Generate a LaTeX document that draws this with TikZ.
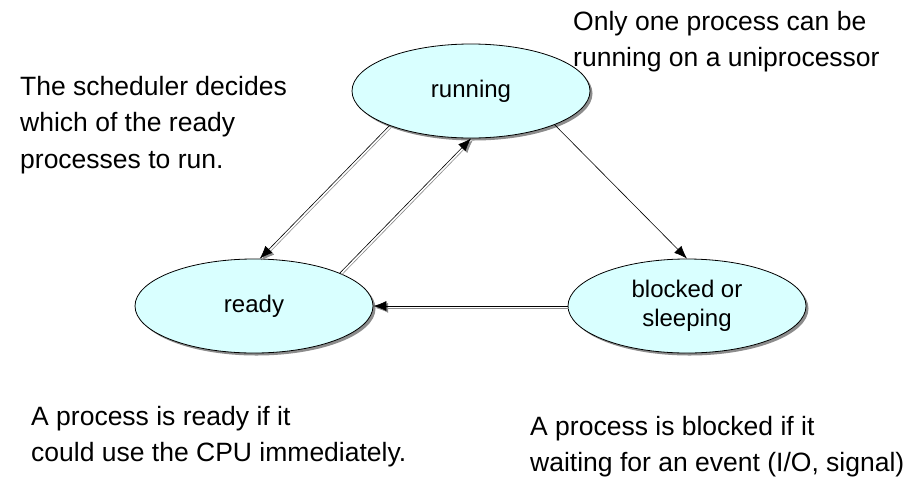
\documentclass[tikz,border=0pt]{standalone}
\usepackage{fontspec}
\setmainfont{Liberation Sans}
\usepackage{xcolor}
\usepackage{tikz}
\usetikzlibrary{shapes.geometric,arrows.meta,shadows,positioning}
\definecolor{statefill}{RGB}{217,255,255}
\definecolor{shadowgray}{RGB}{140,140,140}

\begin{document}
\begin{tikzpicture}[x=1pt,y=-1pt,
		state/.style={ellipse,draw=black,thick,fill=statefill,minimum width=238pt,minimum height=94pt,inner sep=0pt,align=center,font=\fontsize{24}{29}\selectfont,drop shadow={shadow xshift=2.5pt,shadow yshift=-2.5pt,fill=shadowgray,opacity=1}},
		note/.style={anchor=north west,inner sep=0pt,align=left,font=\fontsize{26.5}{36.5}\selectfont},
		trans/.style={-{Latex[length=13pt,width=10pt]},semithick,preaction={draw=shadowgray,semithick,-{Latex[length=13pt,width=10pt]},transform canvas={shift={(1.8pt,-1.8pt)}}}}]
		\useasboundingbox (0,0) rectangle (909,477);
		% the three states
		\node[state] (running) at (471,91) {running};
		\node[state] (ready) at (254,306) {ready};
		\node[state] (blocked) at (687,306) {blocked or\\sleeping};
		% transitions
		\draw[trans] (running.203) -- (ready.83);
		\draw[trans] (ready.21) -- (running.south);
		\draw[-{Latex[length=13pt,width=10pt]},semithick] (running.338) -- (blocked.north);
		\draw[trans] (blocked.west) -- (ready.east);
		% notes
		\node[note] (schednote) at (20,76) {The scheduler decides\\which of the ready\\processes to run.};
		\node[note] (uninote) at (573,11) {Only one process can be\\running on a uniprocessor};
		\node[note] (readynote) at (31,406) {A process is ready if it\\could use the CPU immediately.};
		\node[note] (blockednote) at (530,416) {A process is blocked if it\\waiting for an event (I/O, signal)};
	\end{tikzpicture}
\end{document}
